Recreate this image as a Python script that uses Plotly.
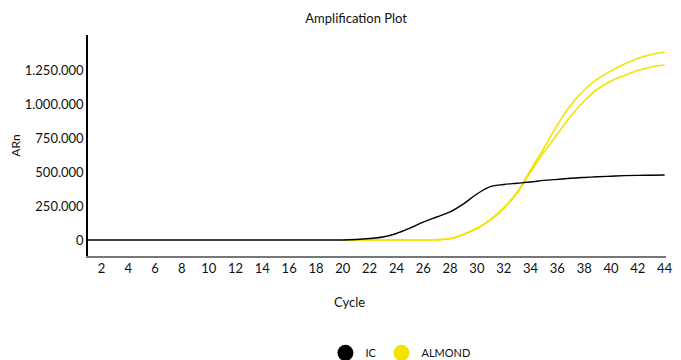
import plotly.graph_objects as go

# Amplification data (ΔRn per cycle)
cycles = list(range(1, 45))

ic = [0] * 20 + [
    3700, 11000, 22000, 48000, 88000, 132000, 169000, 206000, 265000, 338000,
    393000, 408000, 417000, 426000, 438000, 446000, 454000, 460000, 465000, 469000,
    473000, 475000, 476000, 478000,
]

almond_cycles = list(range(20, 45))
almond_a = [
    0, 0, 0, 0, 0, 0, 0, 2000, 9000, 42000,
    86000, 150000, 237000, 353000, 515000, 676000, 846000, 993000, 1103000, 1184000,
    1243000, 1294000, 1335000, 1364000, 1382000,
]
almond_b = [
    0, 0, 0, 0, 0, 0, 0, 2000, 9000, 41000,
    84000, 147000, 233000, 346000, 500000, 647000, 779000, 912000, 1022000, 1110000,
    1169000, 1210000, 1246000, 1272000, 1287000,
]

x_ticks = list(range(2, 45, 2))
y_ticks = [0, 250000, 500000, 750000, 1000000, 1250000]

BLACK = "#000000"
YELLOW = "#f3e300"

fig = go.Figure()

fig.add_trace(go.Scatter(x=almond_cycles, y=almond_a, mode="lines", line=dict(color=YELLOW, width=1.6, shape="spline"), showlegend=False))
fig.add_trace(go.Scatter(x=almond_cycles, y=almond_b, mode="lines", line=dict(color=YELLOW, width=1.6, shape="spline"), showlegend=False))
fig.add_trace(go.Scatter(x=cycles, y=ic, mode="lines", line=dict(color=BLACK, width=1.4, shape="spline"), showlegend=False))

# legend entries drawn as filled circles
fig.add_trace(go.Scatter(x=[None], y=[None], mode="markers", name="IC", marker=dict(color=BLACK, size=18, symbol="circle")))
fig.add_trace(go.Scatter(x=[None], y=[None], mode="markers", name="ALMOND", marker=dict(color=YELLOW, size=18, symbol="circle")))

FONT = "Lato, 'Noto Sans', sans-serif"

fig.update_layout(
    width=681,
    height=360,
    margin=dict(l=88, r=8, t=35, b=104),
    paper_bgcolor="white",
    plot_bgcolor="white",
    separators=",.",
    font=dict(family=FONT, color="#111", size=12),
    title=dict(text="Amplification Plot", x=0.523, xanchor="center", y=0.95, yanchor="middle",
               font=dict(family=FONT, size=13, color="#111")),
    legend=dict(orientation="h", x=0.588, xanchor="center", xref="container",
                y=0.02, yanchor="middle", yref="container",
                font=dict(size=11, color="#111"), itemsizing="trace", itemwidth=30,
                tracegroupgap=0),
    annotations=[
        dict(text="Cycle", xref="paper", yref="paper", x=0.453, y=-0.208,
             xanchor="center", yanchor="middle", showarrow=False,
             font=dict(family=FONT, size=13, color="#111")),
    ],
)

fig.update_xaxes(
    range=[1, 44.1],
    tickvals=x_ticks,
    showgrid=False,
    zeroline=False,
    showline=True,
    linecolor="#777",
    linewidth=1.5,
    ticks="",
    tickfont=dict(size=13, color="#111"),
)
fig.update_yaxes(
    range=[-117600, 1507000],
    tickvals=y_ticks,
    tickformat=",d",
    showgrid=False,
    zeroline=False,
    showline=True,
    linecolor="#000",
    linewidth=1.5,
    ticks="",
    tickfont=dict(size=13, color="#111"),
    title=dict(text="ARn", font=dict(size=12, color="#111"), standoff=2),
)

fig.write_html("out.html")
